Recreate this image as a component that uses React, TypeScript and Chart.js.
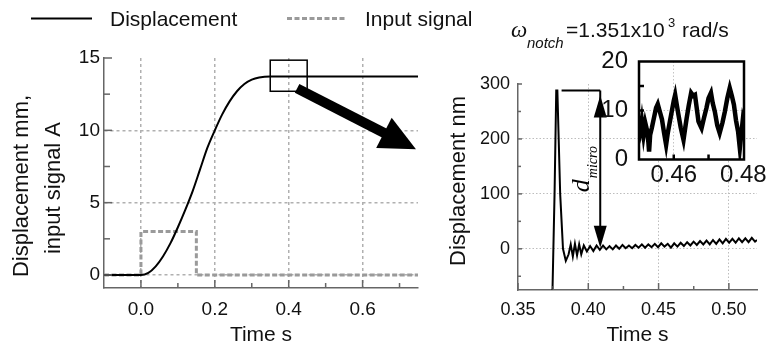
import React, { useEffect, useRef } from "react";
import { Chart, registerables } from "chart.js";

Chart.register(...registerables);

const W = 772;
const H = 346;
const SANS = '"Liberation Sans", Arial, sans-serif';
const SERIF = '"Liberation Serif", "Times New Roman", serif';
const TEXT = "#111";
const AXIS = "#666";

// ---------------- Left panel ----------------
const dispTime = [-0.1, 0, 0.02, 0.04, 0.06, 0.08, 0.1, 0.12, 0.14, 0.16, 0.18, 0.2, 0.22, 0.24, 0.26, 0.28, 0.3, 0.32, 0.35, 0.75];
const dispValue = [0, 0, 0.15, 0.6, 1.3, 2.2, 3.3, 4.5, 5.8, 7.3, 8.8, 10.0, 11.1, 12.0, 12.7, 13.2, 13.5, 13.65, 13.72, 13.72];
const signalTime = [-0.1, 0, 0, 0.15, 0.15, 0.75];
const signalValue = [0, 0, 3, 3, 0, 0];
const leftXTicks = [0, 0.2, 0.4, 0.6];
const leftXMinor = [0.1, 0.3, 0.5, 0.7];
const leftYTicks = [0, 5, 10, 15];
const leftYMinor = [2.5, 7.5, 12.5];
const leftYTitle = ["Displacement mm,", "input signal A"];
const timeTitle = "Time s";
const zoomBoxX = [0.35, 0.45];
const zoomBoxY = [12.7, 14.85];
const arrowFrom = [0.4227, 12.9];
const arrowTo = [0.7445, 8.69];

// ---------------- Right panel ----------------
const microTime = [
  0.3745, 0.376, 0.3772, 0.378, 0.38, 0.382, 0.384, 0.386, 0.3875, 0.389, 0.3905, 0.392, 0.3935, 0.395,
  0.3968, 0.399, 0.4013, 0.4036, 0.4059, 0.4082, 0.4105, 0.4128, 0.4151, 0.4174, 0.4197, 0.422, 0.4243,
  0.4266, 0.4289, 0.4312, 0.4335, 0.4358, 0.4381, 0.4404, 0.4427, 0.445, 0.4473, 0.4496, 0.4519, 0.4542,
  0.4565, 0.4588, 0.4611, 0.4634, 0.4657, 0.468, 0.4703, 0.4726, 0.4749, 0.4772, 0.4795, 0.4818, 0.4841,
  0.4864, 0.4887, 0.491, 0.4933, 0.4956, 0.4979, 0.5002, 0.5025, 0.5048, 0.5071, 0.5094, 0.5117, 0.514,
  0.5163, 0.5186, 0.52,
];
const microValue = [
  -80, 100, 288, 288, 100, 0, -22, -10, 8, -14, 9, -12, 8, -10,
  6, -5, 5, -4, 6, -2, 6, -1, 5, -1, 6, 0, 7,
  1, 6, 1, 7, 2, 8, 2, 8, 3, 9, 3, 10, 4,
  9, 2, 10, 4, 11, 5, 12, 6, 13, 7, 14, 8, 15,
  8, 16, 9, 17, 10, 18, 11, 18, 11, 19, 12, 19, 12,
  20, 13, 16,
];
const rightXTicks = [0.35, 0.4, 0.45, 0.5];
const rightXMinor = [0.375, 0.425, 0.475];
const rightYTicks = [0, 100, 200, 300];
const rightYMinor = [-50, 50, 150, 250];
const rightYTitle = "Displacement nm";
const dMicroTime = 0.4085;
const dMicroTop = 288;
const dMicroBottom = 2;
const peakLineStart = 0.381;
const titleSymbol = "ω";
const titleSub = "notch";
const titleMain = "=1.351x10";
const titleSup = "3";
const titleUnit = "rad/s";

// ---------------- Inset ----------------
const insetTime = [
  0.45, 0.4504, 0.4508, 0.4513, 0.4518, 0.4523, 0.4527, 0.4529, 0.4532, 0.4537, 0.4543, 0.4549, 0.4554,
  0.4559, 0.4566, 0.4572, 0.4578, 0.4583, 0.4589, 0.4596, 0.46, 0.4604, 0.4609, 0.4613, 0.462, 0.4628,
  0.4632, 0.4637, 0.4643, 0.465, 0.4656, 0.4661, 0.4666, 0.4671, 0.4676, 0.468, 0.4687, 0.4694, 0.47,
  0.4707, 0.4712, 0.4718, 0.4725, 0.4732, 0.474, 0.4747, 0.4754, 0.4761, 0.4767, 0.4773, 0.4779, 0.4785,
  0.479, 0.4794, 0.4799, 0.4805,
];
const insetValue = [
  7.5, 6.0, 8.0, 5.0, 7.5, 6.0, 3.5, 1.6, 5.0, 6.5, 8.5, 10.5, 11.3,
  10.0, 8.2, 5.5, 3.0, 5.5, 7.8, 10.5, 12.0, 13.2, 11.0, 9.3, 6.5, 4.0,
  6.0, 8.4, 11.0, 13.6, 13.0, 13.2, 10.5, 7.8, 7.0, 6.4, 8.5, 10.5, 12.5,
  13.6, 11.5, 9.8, 7.0, 5.4, 7.5, 9.8, 12.5, 14.6, 13.0, 11.2, 8.0, 5.7,
  2.3, 5.0, 8.4, 7.0,
];
const insetXTicks = [0.46, 0.48];
const insetXMarks = [0.46, 0.47];
const insetYTicks = [0, 10, 20];
const insetYMarks = [5, 10, 15];

const pts = (xs: number[], ys: number[]) => xs.map((x, i) => ({ x, y: ys[i] }));

function hideAt(values: number[], color: string) {
  return (c: any) => (c.tick && values.some((v) => Math.abs(v - c.tick.value) < 1e-9) ? "rgba(0,0,0,0)" : color);
}

function drawTickMarks(chart: any, xs: [number, number][], ys: [number, number][], color: string, width: number) {
  const { ctx, chartArea, scales } = chart;
  ctx.save();
  ctx.strokeStyle = color;
  ctx.lineWidth = width;
  ctx.setLineDash([]);
  for (const [v, len] of xs) {
    const px = scales.x.getPixelForValue(v);
    ctx.beginPath();
    ctx.moveTo(px, chartArea.bottom);
    ctx.lineTo(px, chartArea.bottom - len);
    ctx.stroke();
  }
  for (const [v, len] of ys) {
    const py = scales.y.getPixelForValue(v);
    ctx.beginPath();
    ctx.moveTo(chartArea.left, py);
    ctx.lineTo(chartArea.left + len, py);
    ctx.stroke();
  }
  ctx.restore();
}

function rotatedText(ctx: any, text: string, x: number, y: number, font: string) {
  ctx.save();
  ctx.font = font;
  ctx.fillStyle = TEXT;
  ctx.textAlign = "center";
  ctx.textBaseline = "alphabetic";
  ctx.translate(x, y);
  ctx.rotate(-Math.PI / 2);
  ctx.fillText(text, 0, 0);
  ctx.restore();
}

const baseOptions = (padding: any) => ({
  animation: false as const,
  responsive: false,
  devicePixelRatio: 1,
  layout: { padding },
  plugins: { legend: { display: false }, tooltip: { enabled: false } },
  elements: { point: { radius: 0 }, line: { tension: 0 } },
});

function leftConfig(): any {
  const plugin = {
    id: "leftDecor",
    afterDatasetsDraw(chart: any) {
      const { ctx, scales } = chart;
      const xs = scales.x;
      const ys = scales.y;
      drawTickMarks(
        chart,
        [...leftXTicks.map((v) => [v, 8] as [number, number]), ...leftXMinor.map((v) => [v, 5] as [number, number])],
        [...leftYTicks.map((v) => [v, 8] as [number, number]), ...leftYMinor.map((v) => [v, 6] as [number, number])],
        AXIS,
        1.5
      );
      // zoom box
      ctx.save();
      ctx.strokeStyle = "#000";
      ctx.lineWidth = 1.5;
      const bx0 = xs.getPixelForValue(zoomBoxX[0]);
      const bx1 = xs.getPixelForValue(zoomBoxX[1]);
      const by0 = ys.getPixelForValue(zoomBoxY[1]);
      const by1 = ys.getPixelForValue(zoomBoxY[0]);
      ctx.strokeRect(bx0, by0, bx1 - bx0, by1 - by0);
      // thick arrow
      const p0 = { x: xs.getPixelForValue(arrowFrom[0]), y: ys.getPixelForValue(arrowFrom[1]) };
      const p1 = { x: xs.getPixelForValue(arrowTo[0]), y: ys.getPixelForValue(arrowTo[1]) };
      const dx = p1.x - p0.x;
      const dy = p1.y - p0.y;
      const L = Math.hypot(dx, dy);
      const ux = dx / L;
      const uy = dy / L;
      const headLen = 36;
      const headHalf = 17;
      const bx = p1.x - ux * headLen;
      const by = p1.y - uy * headLen;
      ctx.lineWidth = 10;
      ctx.lineCap = "butt";
      ctx.beginPath();
      ctx.moveTo(p0.x, p0.y);
      ctx.lineTo(bx + ux * 2, by + uy * 2);
      ctx.stroke();
      ctx.fillStyle = "#000";
      ctx.beginPath();
      ctx.moveTo(p1.x, p1.y);
      ctx.lineTo(bx - uy * headHalf, by + ux * headHalf);
      ctx.lineTo(bx + uy * headHalf, by - ux * headHalf);
      ctx.closePath();
      ctx.fill();
      ctx.restore();
    },
    afterDraw(chart: any) {
      const { ctx } = chart;
      // legend
      const items = [
        { x0: 31, x1: 92, tx: 110 },
        { x0: 287, x1: 345, tx: 365 },
      ];
      ctx.save();
      chart.data.datasets.forEach((d: any, i: number) => {
        const it = items[i];
        ctx.strokeStyle = d.borderColor;
        ctx.lineWidth = d.borderWidth;
        ctx.setLineDash(d.borderDash || []);
        ctx.beginPath();
        ctx.moveTo(it.x0, 18.5);
        ctx.lineTo(it.x1, 18.5);
        ctx.stroke();
        ctx.setLineDash([]);
        ctx.fillStyle = TEXT;
        ctx.font = `21px ${SANS}`;
        ctx.textBaseline = "alphabetic";
        ctx.textAlign = "left";
        ctx.fillText(d.label, it.tx, 26);
      });
      ctx.restore();
      // y title
      rotatedText(ctx, leftYTitle[0], 28, 186, `22px ${SANS}`);
      rotatedText(ctx, leftYTitle[1], 60, 188, `22px ${SANS}`);
    },
  };
  return {
    type: "line",
    data: {
      datasets: [
        {
          label: "Displacement",
          data: pts(dispTime, dispValue),
          borderColor: "#000",
          borderWidth: 2,
          cubicInterpolationMode: "monotone",
        },
        {
          label: "Input signal",
          data: pts(signalTime, signalValue),
          borderColor: "#9a9a9a",
          borderWidth: 3,
          borderDash: [5, 2.5],
        },
      ],
    },
    options: {
      ...baseOptions({ left: 0, top: 58, right: W - 418, bottom: 0 }),
      scales: {
        x: {
          type: "linear",
          min: -0.1,
          max: 0.75,
          afterBuildTicks: (s: any) => {
            s.ticks = leftXTicks.map((value) => ({ value }));
          },
          afterFit: (s: any) => {
            s.height = H - 288;
          },
          ticks: {
            autoSkip: false,
            maxRotation: 0,
            padding: 10,
            color: TEXT,
            font: { family: SANS, size: 19 },
            callback: (v: any) => Number(v).toFixed(1),
          },
          grid: { drawTicks: false, lineWidth: 1.5, color: hideAt([], "#b0b0b0") },
          border: { display: true, color: AXIS, width: 1.5, dash: [3, 3] },
          title: {
            display: true,
            text: timeTitle,
            color: TEXT,
            font: { family: SANS, size: 21, lineHeight: 1 },
            padding: { top: 0, bottom: 0 },
          },
        },
        y: {
          type: "linear",
          min: -0.9,
          max: 15,
          afterBuildTicks: (s: any) => {
            s.ticks = leftYTicks.map((value) => ({ value }));
          },
          afterFit: (s: any) => {
            s.width = 104;
          },
          ticks: { padding: 4, color: TEXT, font: { family: SANS, size: 19 }, callback: (v: any) => String(v) },
          grid: { drawTicks: false, lineWidth: 1.5, color: hideAt([15], "#b0b0b0") },
          border: { display: true, color: AXIS, width: 1.5, dash: [3, 3] },
        },
      },
    },
    plugins: [plugin],
  };
}

function rightConfig(): any {
  const plugin = {
    id: "rightDecor",
    afterDatasetsDraw(chart: any) {
      const { ctx, scales } = chart;
      const xs = scales.x;
      const ys = scales.y;
      drawTickMarks(
        chart,
        [...rightXTicks.map((v) => [v, 7] as [number, number]), ...rightXMinor.map((v) => [v, 4] as [number, number])],
        [...rightYTicks.map((v) => [v, 4] as [number, number]), ...rightYMinor.map((v) => [v, 3] as [number, number])],
        AXIS,
        1.5
      );
      const x = xs.getPixelForValue(dMicroTime);
      const yTop = ys.getPixelForValue(dMicroTop);
      const yBot = ys.getPixelForValue(dMicroBottom);
      const xStart = xs.getPixelForValue(peakLineStart);
      ctx.save();
      ctx.strokeStyle = "#000";
      ctx.fillStyle = "#000";
      ctx.lineWidth = 2;
      ctx.beginPath();
      ctx.moveTo(xStart, yTop);
      ctx.lineTo(x, yTop);
      ctx.moveTo(x, yTop);
      ctx.lineTo(x, yBot - 10);
      ctx.stroke();
      const hl = 22;
      const hw = 6.5;
      const tTop = yTop + 5;
      ctx.beginPath();
      ctx.moveTo(x, tTop);
      ctx.lineTo(x - hw, tTop + hl);
      ctx.lineTo(x + hw, tTop + hl);
      ctx.closePath();
      ctx.fill();
      ctx.beginPath();
      ctx.moveTo(x, yBot);
      ctx.lineTo(x - hw, yBot - hl);
      ctx.lineTo(x + hw, yBot - hl);
      ctx.closePath();
      ctx.fill();
      // d_micro label
      ctx.font = `italic 26px ${SERIF}`;
      const wd = ctx.measureText("d").width;
      ctx.font = `italic 14px ${SERIF}`;
      const wm = ctx.measureText("micro").width;
      const total = wd + 1 + wm;
      const mid = (yTop + yBot) / 2;
      ctx.translate(x - 11, mid + total / 2);
      ctx.rotate(-Math.PI / 2);
      ctx.textBaseline = "alphabetic";
      ctx.textAlign = "left";
      ctx.font = `italic 26px ${SERIF}`;
      ctx.fillText("d", 0, 0);
      ctx.font = `italic 14px ${SERIF}`;
      ctx.fillText("micro", wd + 1, 8);
      ctx.restore();
    },
    afterDraw(chart: any) {
      const { ctx } = chart;
      ctx.save();
      ctx.fillStyle = TEXT;
      ctx.textBaseline = "alphabetic";
      ctx.textAlign = "left";
      ctx.font = `italic 23px ${SERIF}`;
      ctx.fillText(titleSymbol, 511, 36.5);
      ctx.font = `italic 15px ${SANS}`;
      ctx.fillText(titleSub, 527, 48);
      ctx.font = `21px ${SANS}`;
      ctx.fillText(titleMain, 566, 36.5);
      ctx.font = `13px ${SANS}`;
      ctx.fillText(titleSup, 668, 27);
      ctx.font = `21px ${SANS}`;
      ctx.fillText(titleUnit, 682, 36.5);
      ctx.restore();
      rotatedText(ctx, rightYTitle, 465, 181, `22px ${SANS}`);
    },
  };
  return {
    type: "line",
    data: {
      datasets: [
        {
          label: "Displacement",
          data: pts(microTime, microValue),
          borderColor: "#000",
          borderWidth: 2,
        },
      ],
    },
    options: {
      ...baseOptions({ left: 430, top: 84, right: W - 757, bottom: 0 }),
      scales: {
        x: {
          type: "linear",
          min: 0.35,
          max: 0.52,
          afterBuildTicks: (s: any) => {
            s.ticks = rightXTicks.map((value) => ({ value }));
          },
          afterFit: (s: any) => {
            s.height = H - 290;
          },
          ticks: {
            autoSkip: false,
            maxRotation: 0,
            padding: 9,
            color: TEXT,
            font: { family: SANS, size: 18 },
            callback: (v: any) => Number(v).toFixed(2),
          },
          grid: { drawTicks: false, lineWidth: 1, color: hideAt([0.35], "#bdbdbd") },
          border: { display: true, color: AXIS, width: 1.5, dash: [1.5, 2] },
          title: {
            display: true,
            text: timeTitle,
            color: TEXT,
            font: { family: SANS, size: 21, lineHeight: 1 },
            padding: { top: 0, bottom: 0 },
          },
        },
        y: {
          type: "linear",
          min: -75,
          max: 300,
          afterBuildTicks: (s: any) => {
            s.ticks = rightYTicks.map((value) => ({ value }));
          },
          afterFit: (s: any) => {
            s.width = 518 - 430;
          },
          ticks: { padding: 8, color: TEXT, font: { family: SANS, size: 18 }, callback: (v: any) => String(v) },
          grid: { drawTicks: false, lineWidth: 1, color: hideAt([300], "#bdbdbd") },
          border: { display: true, color: AXIS, width: 1.5, dash: [1.5, 2] },
        },
      },
    },
    plugins: [plugin],
  };
}

function insetConfig(): any {
  const plugin = {
    id: "insetDecor",
    beforeDraw(chart: any) {
      const { ctx, chartArea: a } = chart;
      ctx.save();
      ctx.fillStyle = "#fff";
      ctx.fillRect(a.left - 1, a.top - 1, a.right - a.left + 2, a.bottom - a.top + 2);
      ctx.restore();
    },
    afterDraw(chart: any) {
      const { ctx, chartArea: a } = chart;
      drawTickMarks(
        chart,
        insetXMarks.map((v) => [v, 5] as [number, number]),
        insetYMarks.map((v) => [v, 5] as [number, number]),
        "#000",
        2.5
      );
      ctx.save();
      ctx.strokeStyle = "#000";
      ctx.lineWidth = 2.5;
      ctx.strokeRect(a.left, a.top, a.right - a.left, a.bottom - a.top);
      ctx.restore();
    },
  };
  return {
    type: "line",
    data: {
      datasets: [
        {
          label: "Displacement",
          data: pts(insetTime, insetValue),
          borderColor: "#000",
          borderWidth: 4.5,
          borderJoinStyle: "miter",
        },
      ],
    },
    options: {
      ...baseOptions({ left: 590, top: 61.5, right: W - 744, bottom: H - 190 }),
      scales: {
        x: {
          type: "linear",
          min: 0.45,
          max: 0.4802,
          afterBuildTicks: (s: any) => {
            s.ticks = insetXTicks.map((value) => ({ value }));
          },
          afterFit: (s: any) => {
            s.height = 190 - 159.5;
          },
          ticks: {
            autoSkip: false,
            maxRotation: 0,
            padding: 1,
            color: TEXT,
            font: { family: SANS, size: 24 },
            callback: (v: any) => Number(v).toFixed(2),
          },
          grid: { drawTicks: false, lineWidth: 1, color: hideAt([0.48], "#c4c4c4") },
          border: { display: false, dash: [1.5, 2] },
        },
        y: {
          type: "linear",
          min: 0,
          max: 20,
          afterBuildTicks: (s: any) => {
            s.ticks = insetYTicks.map((value) => ({ value }));
          },
          afterFit: (s: any) => {
            s.width = 639 - 590;
          },
          ticks: { padding: 11, color: TEXT, font: { family: SANS, size: 24 }, callback: (v: any) => String(v) },
          grid: { drawTicks: false, lineWidth: 1, color: hideAt([0, 20], "#c4c4c4") },
          border: { display: false, dash: [1.5, 2] },
        },
      },
    },
    plugins: [plugin],
  };
}

export default function App() {
  const leftRef = useRef<HTMLCanvasElement>(null);
  const rightRef = useRef<HTMLCanvasElement>(null);
  const insetRef = useRef<HTMLCanvasElement>(null);

  useEffect(() => {
    const charts = [
      new Chart(leftRef.current as HTMLCanvasElement, leftConfig()),
      new Chart(rightRef.current as HTMLCanvasElement, rightConfig()),
      new Chart(insetRef.current as HTMLCanvasElement, insetConfig()),
    ];
    return () => charts.forEach((c) => c.destroy());
  }, []);

  const cs: React.CSSProperties = { position: "absolute", left: 0, top: 0, width: W, height: H };
  return (
    <div style={{ position: "fixed", left: 0, top: 0, width: W, height: H, background: "#fff", overflow: "hidden" }}>
      <canvas ref={leftRef} width={W} height={H} style={cs} />
      <canvas ref={rightRef} width={W} height={H} style={cs} />
      <canvas ref={insetRef} width={W} height={H} style={cs} />
    </div>
  );
}
